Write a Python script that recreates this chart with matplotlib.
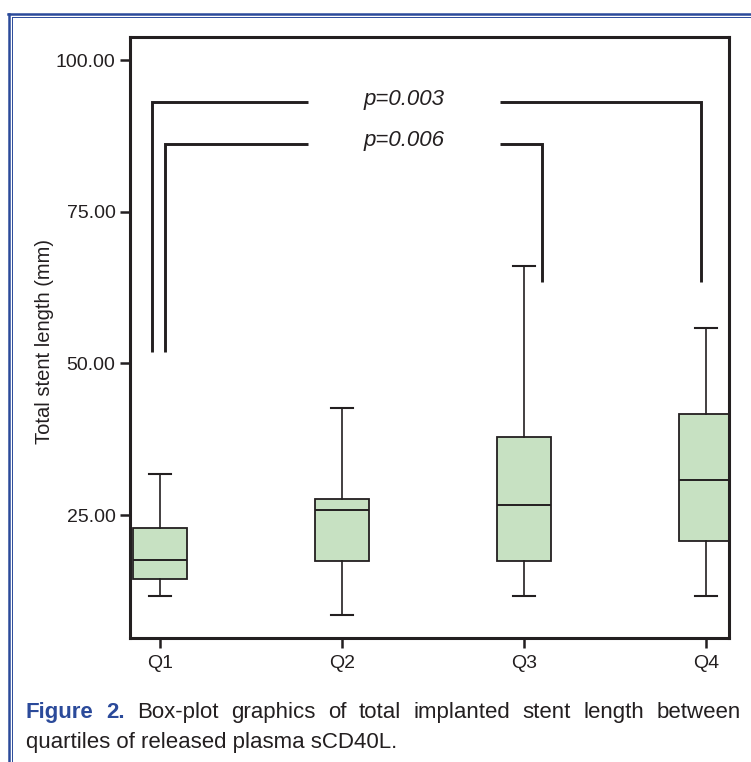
import matplotlib
matplotlib.use("Agg")
import matplotlib.pyplot as plt
from matplotlib.lines import Line2D

plt.rcParams['font.family'] = ['Liberation Sans', 'DejaVu Sans']

# quartile groups of released plasma sCD40L
groups = ["Q1", "Q2", "Q3", "Q4"]
whislo = [11.7, 8.6, 11.7, 11.7]
q1 = [14.4, 17.5, 17.5, 20.7]
med = [17.6, 25.8, 26.6, 30.7]
q3 = [22.9, 27.6, 37.8, 41.6]
whishi = [31.7, 42.7, 66.1, 55.9]

yticks = [25, 50, 75, 100]
ytick_labels = ["25.00", "50.00", "75.00", "100.00"]

# significance brackets: (left group, right group), height, p text
bracket_pairs = [(0, 3), (0, 2)]
bracket_heights = [93.05, 86.2]
bracket_texts = ["p=0.003", "p=0.006"]

caption_line1 = "Figure 2. Box-plot graphics of total implanted stent length between"
caption_line2 = "quartiles of released plasma sCD40L."

ink = "#231f20"
green = "#c7e1c2"
blue = "#2b4a9a"
W, H = 751, 762

fig = plt.figure(figsize=(W / 100, H / 100), dpi=100)
ax = fig.add_axes([130 / W, 1 - 638 / H, 599 / W, 601 / H])

stats = []
for i in range(len(groups)):
    stats.append(dict(label=groups[i], whislo=whislo[i], q1=q1[i], med=med[i],
                      q3=q3[i], whishi=whishi[i], fliers=[]))
ax.bxp(stats, positions=range(len(groups)), widths=0.297, capwidths=0.12,
       patch_artist=True, showfliers=False,
       boxprops=dict(facecolor=green, edgecolor=ink, linewidth=1.3),
       whiskerprops=dict(color=ink, linewidth=1.2),
       capprops=dict(color=ink, linewidth=1.5),
       medianprops=dict(color=ink, linewidth=1.4))

# brackets
left_off = [-0.042, 0.027]
right_off = [-0.029, 0.097]
left_bottom = 51.9
right_bottom = 63.45
gap_lo, gap_hi = 0.811, 1.87
for k, (a, b) in enumerate(bracket_pairs):
    h = bracket_heights[k]
    xl = a + left_off[k]
    xr = b + right_off[k]
    ax.plot([xl, xl, gap_lo], [left_bottom, h, h], color=ink, lw=2.1,
            solid_joinstyle='miter', solid_capstyle='butt')
    ax.plot([gap_hi, xr, xr], [h, h, right_bottom], color=ink, lw=2.1,
            solid_joinstyle='miter', solid_capstyle='butt')
    ax.text((gap_lo + gap_hi) / 2, h - 0.4, bracket_texts[k], ha='center',
            va='baseline', fontsize=16, style='italic', color=ink)

ax.set_xlim(-0.165, 3.126)
ax.set_ylim(4.73, 103.8)
ax.set_xticks(range(len(groups)))
ax.set_xticklabels(groups)
ax.set_yticks(yticks)
ax.set_yticklabels(ytick_labels)
ax.tick_params(axis='both', direction='out', length=7, width=1.8, color=ink,
               labelsize=14, labelcolor=ink)
ax.tick_params(axis='x', pad=5.5)
ax.tick_params(axis='y', pad=3.5)
for s in ax.spines.values():
    s.set_linewidth(2.2)
    s.set_color(ink)

ax.set_ylabel("Total stent length (mm)", fontsize=14.5, color=ink)
ax.yaxis.set_label_coords(-0.127, 0.494)

# page border (double blue rule)
fig.add_artist(Line2D([8 / W, 1], [1 - 13.5 / H, 1 - 13.5 / H], color=blue, lw=1.8))
fig.add_artist(Line2D([12 / W, 1], [1 - 16.5 / H, 1 - 16.5 / H], color=blue, lw=0.7))
fig.add_artist(Line2D([9 / W, 9 / W], [0, 1 - 13.5 / H], color=blue, lw=1.8))
fig.add_artist(Line2D([12.3 / W, 12.3 / W], [0, 1 - 16.5 / H], color=blue, lw=0.7))

# caption, first line justified
fig.canvas.draw()
r = fig.canvas.get_renderer()
words = caption_line1.split()
objs = []
for k, w in enumerate(words):
    bold = k < 2
    t = fig.text(0, 1 - 718 / H, w, fontsize=16, va='baseline',
                 fontweight='bold' if bold else 'normal',
                 color=blue if bold else ink)
    objs.append(t)
widths = [t.get_window_extent(r).width for t in objs]
gap = (741 - 26 - sum(widths)) / (len(objs) - 1)
x = 26
for t, w in zip(objs, widths):
    t.set_x(x / W)
    x += w + gap
fig.text(26 / W, 1 - 748 / H, caption_line2, fontsize=16, va='baseline', color=ink)

fig.savefig("out.png", dpi=100)
